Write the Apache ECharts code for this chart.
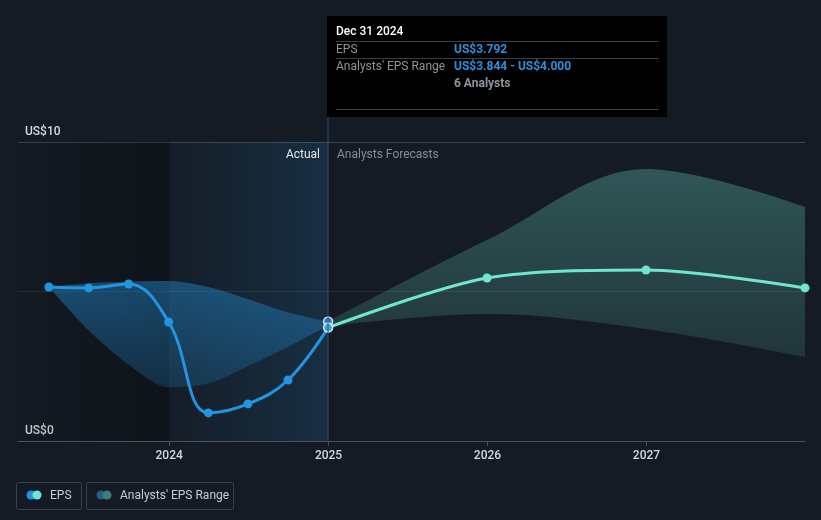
<!DOCTYPE html>
<html>
<head>
<meta charset="utf-8">
<script src="https://cdn.jsdelivr.net/npm/echarts@6/dist/echarts.min.js"></script>
<style>
html,body{margin:0;padding:0;background:#151b24;}
#c{width:821px;height:520px;}
</style>
</head>
<body>
<div id="c"></div>
<script>
// ---- data ----
const actualDates = ['2023-03-31','2023-06-30','2023-09-30','2023-12-31','2024-03-31','2024-06-30','2024-09-30','2024-12-31'];
const actualEPS   = [5.15, 5.12, 5.25, 3.98, 0.94, 1.24, 2.04, 3.792];
const pastRangeHigh = [5.15, 5.28, 5.33, 5.35, 5.15, 4.75, 4.3, 4.0];
const pastRangeLow  = [5.15, 3.7, 2.55, 1.8, 1.92, 2.5, 3.15, 3.844];
const forecastDates = ['2024-12-31','2025-12-31','2026-12-31','2027-12-31'];
const forecastEPS   = [3.792, 5.45, 5.72, 5.12];
const forecastHigh  = [4.0, 6.72, 9.10, 7.83];
const forecastLow   = [3.844, 4.25, 3.75, 2.81];
const tickYears = ['2024-01-01','2025-01-01','2026-01-01','2027-01-01'];
const yTicks = [0, 10];
const tipDate = '2024-12-31';
const tipTitle = 'Dec 31 2024';
const analystCount = 6;
const xStart = '2023-01-19', xEnd = '2027-12-31';

const FONT = 'Roboto, "Noto Sans", sans-serif';
const BLUE = '#2394df', TEAL = '#70e6d2';
const ts = s => new Date(s + 'T00:00:00').getTime();
const pair = (d, v) => d.map((x, i) => [ts(x), v[i]]);
const YEAR = 365 * 24 * 3600 * 1000;
const tickSet = tickYears.map(s => new Date(s + 'T00:00:00').getFullYear());

const chart = echarts.init(document.getElementById('c'), null, {renderer: 'canvas'});
const option = {
  backgroundColor: '#151b24',
  animation: false,
  textStyle: {fontFamily: FONT},
  grid: {left: 18, right: 16, top: 142, bottom: 79},
  xAxis: {
    type: 'time', min: ts(xStart), max: ts(xEnd),
    minInterval: YEAR, maxInterval: YEAR * 1.01,
    axisLine: {show: true, lineStyle: {color: '#4a525d', width: 1}},
    axisTick: {show: true, length: 5, lineStyle: {color: '#4a525d'}},
    axisLabel: {color: '#d6d9de', fontSize: 12, fontWeight: 500, margin: 9, fontFamily: FONT,
      formatter: function (v) {
        const d = new Date(v);
        return (d.getMonth() === 0 && d.getDate() === 1 && tickSet.indexOf(d.getFullYear()) >= 0) ? String(d.getFullYear()) : '';
      }},
    splitLine: {show: false}
  },
  yAxis: {
    type: 'value', min: 0, max: 10, interval: 5,
    axisLine: {show: false}, axisTick: {show: false},
    axisLabel: {inside: true, margin: 7, color: '#d6d9de', fontSize: 12, fontWeight: 500, fontFamily: FONT,
      verticalAlign: 'bottom', padding: [0, 0, 4, 0],
      formatter: v => yTicks.indexOf(v) >= 0 ? 'US$' + v : ''},
    splitLine: {show: true, lineStyle: {color: ['#4a525d', '#262e39', '#3c4450'], width: 1}}
  },
  series: [
    {type: 'line', data: [], silent: true, z: 0,
      markArea: {silent: true, data: [
        [{xAxis: ts(xStart), itemStyle: {color: {type: 'linear', x: 0, y: 0, x2: 1, y2: 0,
            colorStops: [{offset: 0, color: 'rgba(0,0,0,0.05)'}, {offset: 1, color: 'rgba(0,0,0,0.28)'}]}}},
         {xAxis: ts('2024-01-01')}],
        [{xAxis: ts('2024-01-01'), itemStyle: {color: {type: 'linear', x: 0, y: 0, x2: 1, y2: 0,
            colorStops: [{offset: 0, color: 'rgba(35,148,223,0.02)'}, {offset: 1, color: 'rgba(35,148,223,0.16)'}]}}},
         {xAxis: ts(tipDate)}]
      ]}
    },
    {type: 'line', stack: 'past', data: pair(actualDates, pastRangeLow), smooth: 0.3, symbol: 'none',
      lineStyle: {opacity: 0}, z: 1, silent: true},
    {type: 'line', stack: 'past', data: pair(actualDates, pastRangeHigh.map((h, i) => h - pastRangeLow[i])),
      smooth: 0.3, symbol: 'none', lineStyle: {opacity: 0}, z: 1, silent: true,
      areaStyle: {opacity: 1, color: {type: 'linear', x: 0, y: 0, x2: 0, y2: 1,
        colorStops: [{offset: 0, color: 'rgba(35,148,223,0.42)'}, {offset: 1, color: 'rgba(35,148,223,0.2)'}]}}},
    {type: 'line', stack: 'fc', data: pair(forecastDates, forecastLow), smooth: 0.35, symbol: 'none',
      lineStyle: {opacity: 0}, z: 1, silent: true},
    {type: 'line', stack: 'fc', data: pair(forecastDates, forecastHigh.map((h, i) => h - forecastLow[i])),
      smooth: 0.35, symbol: 'none', lineStyle: {opacity: 0}, z: 1, silent: true,
      areaStyle: {opacity: 1, color: {type: 'linear', x: 0, y: 0, x2: 0, y2: 1,
        colorStops: [{offset: 0, color: 'rgba(112,230,210,0.29)'}, {offset: 1, color: 'rgba(112,230,210,0.13)'}]}}},
    {type: 'line', data: pair(actualDates, actualEPS), smooth: 0.4, symbol: 'circle', symbolSize: 9,
      showAllSymbol: true, z: 3,
      lineStyle: {color: BLUE, width: 3}, itemStyle: {color: BLUE}},
    {type: 'line', data: pair(forecastDates, forecastEPS), smooth: 0.3, symbol: 'circle', symbolSize: 9,
      showAllSymbol: true, z: 3,
      lineStyle: {color: TEAL, width: 3}, itemStyle: {color: TEAL}},
    {type: 'scatter', z: 5, symbolSize: 9,
      data: [[ts(tipDate), forecastHigh[0]], [ts(tipDate), actualEPS[actualEPS.length - 1]]],
      itemStyle: {color: BLUE, borderColor: '#ffffff', borderWidth: 1.5}}
  ]
};
chart.setOption(option);

const px = chart.convertToPixel({gridIndex: 0}, [ts(tipDate), 10]);
const lx = Math.round(px[0]);
const gridTop = px[1];
const bottomPx = chart.convertToPixel({gridIndex: 0}, [ts(tipDate), 0])[1];
const fmt = v => 'US$' + v.toFixed(3);
const tipLeft = lx - 1, tipTop = 16, tipW = 340, tipH = 101;
const tx = tipLeft + 9, vx = tipLeft + 127;
const txt = (x, y, s, fill, opts) => ({type: 'text', x: x, y: y, z: 100,
  style: Object.assign({text: s, fill: fill, fontSize: 12, fontFamily: FONT, verticalAlign: 'middle', align: 'left'}, opts || {})});
const hline = (x1, x2, y, c) => ({type: 'line', z: 100, shape: {x1: x1, y1: y, x2: x2, y2: y}, style: {stroke: c, lineWidth: 1}});

const graphics = [
  {type: 'rect', z: 90, shape: {x: lx - 1, y: tipTop + tipH, width: 2, height: bottomPx - tipTop - tipH}, style: {fill: 'rgba(60,85,110,0.45)'}},
  {type: 'rect', z: 99, shape: {x: tipLeft, y: tipTop, width: tipW, height: tipH}, style: {fill: '#000000'}},
  txt(tx, 32, tipTitle, '#ffffff', {fontWeight: 500}),
  hline(tx, tipLeft + 332, 41.5, '#3d3d3d'),
  txt(tx, 50, 'EPS', '#8e949b'),
  txt(vx, 50, fmt(actualEPS[actualEPS.length - 1]), '#2e8fdb', {fontWeight: 'bold'}),
  hline(tx, tipLeft + 332, 58.5, '#3d3d3d'),
  txt(tx, 67, "Analysts' EPS Range", '#8e949b'),
  txt(vx, 67, fmt(forecastLow[0]) + ' - ' + fmt(forecastHigh[0]), '#2e8fdb', {fontWeight: 'bold'}),
  txt(vx, 84, analystCount + ' Analysts', '#8e949b', {fontWeight: 'bold'}),
  hline(tx, tipLeft + 332, 109.5, '#3d3d3d'),
  txt(lx - 8, gridTop + 13, 'Actual', '#e6e8eb', {align: 'right'}),
  txt(lx + 9, gridTop + 13, 'Analysts Forecasts', '#868c94'),
  {type: 'rect', z: 100, shape: {x: 16.5, y: 482.5, width: 65, height: 27, r: 2}, style: {fill: 'none', stroke: '#3a424d', lineWidth: 1}},
  {type: 'circle', z: 101, shape: {cx: 31, cy: 495, r: 4.5}, style: {fill: BLUE}},
  {type: 'circle', z: 102, shape: {cx: 37, cy: 495, r: 4.5}, style: {fill: TEAL}},
  txt(50, 495.5, 'EPS', '#c9cdd3'),
  {type: 'rect', z: 100, shape: {x: 86.5, y: 482.5, width: 147, height: 27, r: 2}, style: {fill: 'none', stroke: '#3a424d', lineWidth: 1}},
  {type: 'circle', z: 101, shape: {cx: 101, cy: 495, r: 4.5}, style: {fill: '#275f8a'}},
  {type: 'circle', z: 102, shape: {cx: 107, cy: 495, r: 4.5}, style: {fill: '#3a7f78'}},
  txt(120, 495.5, "Analysts' EPS Range", '#c9cdd3')
];
chart.setOption({graphic: graphics});
</script>
</body>
</html>
